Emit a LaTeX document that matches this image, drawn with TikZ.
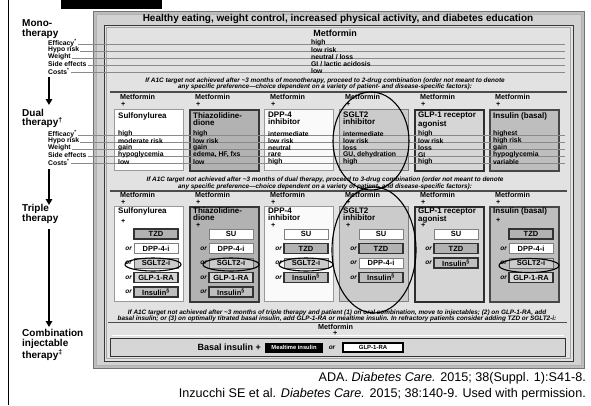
\documentclass[tikz,border=0pt]{standalone}
\usepackage{fontspec}
\setmainfont{Liberation Sans}
\usetikzlibrary{arrows.meta}
\definecolor{framec}{HTML}{BDBDBD}
\definecolor{framehi}{HTML}{D2D2D2}
\definecolor{panelc}{HTML}{E2E2E2}
\definecolor{rowln}{HTML}{8A8A8A}
\definecolor{gA}{HTML}{B2B2B2}
\definecolor{gB}{HTML}{CBCBCB}
\definecolor{gC}{HTML}{D6D6D6}
\definecolor{gD}{HTML}{BEBEBE}
\newcommand\myfs[2]{\fontsize{#1}{#2}\selectfont}
\tikzset{
  big/.style={font=\myfs{10}{9.8}\bfseries, align=left, anchor=west, inner sep=0pt},
  sublbl/.style={font=\myfs{6.8}{7}\bfseries, anchor=west, inner sep=0pt},
  val/.style={font=\myfs{6.8}{7}\bfseries, anchor=west, inner sep=0pt},
  hdr/.style={font=\myfs{8}{7}\bfseries, anchor=north west, align=left, inner sep=0pt},
  met/.style={font=\myfs{7.2}{7.2}\bfseries, anchor=west, inner sep=0pt},
  note/.style={font=\myfs{6.4}{6.6}\bfseries\itshape, align=center, inner sep=0pt},
  rowline/.style={draw=rowln, line width=0.5pt},
  sepline/.style={draw=black!70, line width=1.6pt},
  arr/.style={line width=1.6pt, -{Triangle[length=6pt,width=6.5pt]}},
  colbox/.style={minimum width=69pt, anchor=north west, inner sep=0pt},
  boxW/.style={colbox, fill=white, draw=black!40, line width=1.3pt},
  boxT/.style={colbox, fill=gA, draw=black!78, line width=1.7pt},
  boxD/.style={colbox, fill=black!2, draw=black!40, line width=1.3pt},
  boxS/.style={colbox, fill=gB, draw=black!50, line width=1.3pt},
  boxG/.style={colbox, fill=gC, draw=black!82, line width=1.7pt},
  boxI/.style={colbox, fill=gD, draw=black!72, line width=1.7pt},
  sb/.style={minimum width=44pt, minimum height=10pt, inner sep=0pt, font=\myfs{7.5}{7.5}\bfseries},
  sbW/.style={sb, fill=white, draw=black!50, line width=1pt},
  sbT/.style={sb, fill=gA, draw=black!80, line width=1.3pt},
  sbS/.style={sb, fill=gB, draw=black!60, line width=1pt},
  sbG/.style={sb, fill=gC, draw=black!80, line width=1.3pt},
  sbI/.style={sb, fill=gD, draw=black!80, line width=1.3pt},
  orl/.style={font=\myfs{6.5}{6.5}\bfseries\itshape, anchor=east, inner sep=0pt},
  oval/.style={draw=black, line width=1.1pt},
  cite/.style={font=\myfs{12.6}{13}, anchor=east, inner sep=0pt}
}
\begin{document}
\begin{tikzpicture}[x=1pt,y=-1pt]
\useasboundingbox (0,0) rectangle (591,405);
\fill[white] (0,0) rectangle (591,405);
% page rule and title remnant
\draw[line width=1.6pt] (8.5,0) -- (8.5,405);
\fill[black] (61,0) rectangle (162,9);
% frame
\draw[fill=framec, draw=black!55, line width=0.8pt] (93,11) rectangle (584,368);
\draw[fill=framehi, draw=black!30, line width=0.6pt] (96,14) rectangle (581,365);
\draw[fill=panelc, draw=black!78, line width=1pt] (104,25) rectangle (573,361);
\draw[draw=black!35, line width=0.5pt] (106.5,27.5) rectangle (570.5,358.5);
\node[font=\myfs{10}{10}\bfseries, inner sep=0pt] (head) at (338,18.5) {Healthy eating, weight control, increased physical activity, and diabetes education};
\coordinate (edgeR) at (565,0);

% ---------- left column labels ----------
\node[big] (mono) at (22,29) {Mono-\\therapy};
\node[big] (dual) at (22,118.5) {Dual\\therapy\textsuperscript{\dag}};
\node[big] (triple) at (22,214) {Triple\\therapy};
\node[big] (comb) at (22,345) {Combination\\injectable\\therapy\textsuperscript{\ddag}};
\foreach \t [count=\k from 0] in {Efficacy\textsuperscript{*}, Hypo risk, Weight, Side effects, Costs\textsuperscript{*}}{
  \node[sublbl] (ml\k) at (48,43+7*\k) {\t};
  \node[sublbl] (dl\k) at (48,134+7*\k) {\t};
}
\coordinate (a1s) at (49,77);  \coordinate (a1e) at (49,105);
\coordinate (a2s) at (49,169); \coordinate (a2e) at (49,205);
\coordinate (a3s) at (49,229); \coordinate (a3e) at (49,327);
\draw[arr] (a1s) -- (a1e);
\draw[arr] (a2s) -- (a2e);
\draw[arr] (a3s) -- (a3e);

% ---------- dual boxes ----------
\node[boxW, minimum height=61pt] (d0) at (114,109) {};
\node[boxT, minimum height=61pt] (d1) at (189,109) {};
\node[boxD, minimum height=61pt] (d2) at (264,109) {};
\node[boxS, minimum height=61pt] (d3) at (339,109) {};
\node[boxG, minimum height=61pt] (d4) at (414,109) {};
\node[boxI, minimum height=61pt] (d5) at (489,109) {};
% ---------- triple boxes ----------
\node[boxW, minimum height=95pt] (t0) at (114,206) {};
\node[boxT, minimum height=95pt] (t1) at (189,206) {};
\node[boxD, minimum height=95pt] (t2) at (264,206) {};
\node[boxS, minimum height=95pt] (t3) at (339,206) {};
\node[boxG, minimum height=95pt] (t4) at (414,206) {};
\node[boxI, minimum height=95pt] (t5) at (489,206) {};

% ---------- row lines ----------
\foreach \k in {0,...,4}{
  \draw[rowline] ([xshift=1pt,yshift=-1pt]ml\k.east) -- ([yshift=-1pt]ml\k.east -| edgeR);
  \draw[rowline] ([xshift=1pt,yshift=-1pt]dl\k.east) -- ([yshift=-1pt]dl\k.east -| edgeR);
}

% ---------- mono section ----------
\node[font=\myfs{9}{9}\bfseries, inner sep=0pt] (metm) at (335,33) {Metformin};
\foreach \t [count=\k from 0] in {high, low risk, neutral / loss, GI / lactic acidosis, low}{
  \node[val] (mv\k) at (311,43+7*\k) {\t};
}
\node[note] (n1) at (325,84) {If A1C target not achieved after \textasciitilde3 months of monotherapy, proceed to 2-drug combination (order not meant to denote\\any specific preference---choice dependent on a variety of patient- and disease-specific factors):};
\coordinate (s1a) at (110,92); \coordinate (s1b) at (567,92);
\draw[sepline] (s1a) -- (s1b);

% ---------- dual section text ----------
\foreach \i in {0,...,5}{
  \node[met] (dm\i) at (120+75*\i,96.5) {Metformin};
  \node[met] (dp\i) at (121+75*\i,104) {+};
  \node[met] (tm\i) at (120+75*\i,194.5) {Metformin};
  \node[met] (tp\i) at (121+75*\i,202) {+};
}
\node[hdr] (dh0) at (118,112) {Sulfonylurea};
\node[hdr] (dh1) at (193,112) {Thiazolidine-\\dione};
\node[hdr] (dh2) at (268,112) {DPP-4\\inhibitor};
\node[hdr] (dh3) at (343,112) {SGLT2\\inhibitor};
\node[hdr] (dh4) at (418,112) {GLP-1 receptor\\agonist};
\node[hdr] (dh5) at (493,112) {Insulin (basal)};
\foreach \t [count=\k from 0] in {high, moderate risk, gain, hypoglycemia, low}{\node[val] (dv0\k) at (118,134+7*\k) {\t};}
\foreach \t [count=\k from 0] in {high, low risk, gain, {edema, HF, fxs}, low}{\node[val] (dv1\k) at (193,134+7*\k) {\t};}
\foreach \t [count=\k from 0] in {intermediate, low risk, neutral, rare, high}{\node[val] (dv2\k) at (268,134+7*\k) {\t};}
\foreach \t [count=\k from 0] in {intermediate, low risk, loss, {GU, dehydration}, high}{\node[val] (dv3\k) at (343,134+7*\k) {\t};}
\foreach \t [count=\k from 0] in {high, low risk, loss, GI, high}{\node[val] (dv4\k) at (418,134+7*\k) {\t};}
\foreach \t [count=\k from 0] in {highest, high risk, gain, hypoglycemia, variable}{\node[val] (dv5\k) at (493,134+7*\k) {\t};}
\node[note] (n2) at (325,183.5) {If A1C target not achieved after \textasciitilde3 months of dual therapy, proceed to 3-drug combination (order not meant to denote\\any specific preference---choice dependent on a variety of patient- and disease-specific factors):};
\coordinate (s2a) at (110,191); \coordinate (s2b) at (567,191);
\draw[sepline] (s2a) -- (s2b);

% ---------- triple section ----------
\node[hdr] (th0) at (118,207.5) {Sulfonylurea};
\node[hdr] (th1) at (193,207.5) {Thiazolidine-\\dione};
\node[hdr] (th2) at (268,207.5) {DPP-4\\inhibitor};
\node[hdr] (th3) at (343,207.5) {SGLT2\\inhibitor};
\node[hdr] (th4) at (418,207.5) {GLP-1 receptor\\agonist};
\node[hdr] (th5) at (493,207.5) {Insulin (basal)};
\node[met] (tq0) at (121,221.5) {+};
\node[met] (tq1) at (196,225.5) {+};
\node[met] (tq2) at (271,225.5) {+};
\node[met] (tq3) at (346,225.5) {+};
\node[met] (tq4) at (421,225.5) {+};
\node[met] (tq5) at (496,220) {+};
% sub boxes
\foreach \t/\s [count=\k from 0] in {TZD/T, DPP-4-i/W, SGLT2-i/S, GLP-1-RA/G, Insulin\textsuperscript{\S}/I}{
  \node[sb\s] (x0\k) at (156,234+14.5*\k) {\t};
  \ifnum\k>0 \node[orl] (o0\k) at (132,234+14.5*\k) {or};\fi
}
\foreach \t/\s [count=\k from 0] in {SU/W, DPP-4-i/W, SGLT2-i/S, GLP-1-RA/G, Insulin\textsuperscript{\S}/I}{
  \node[sb\s] (x1\k) at (231,234+14.5*\k) {\t};
  \ifnum\k>0 \node[orl] (o1\k) at (207,234+14.5*\k) {or};\fi
}
\foreach \t/\s [count=\k from 0] in {SU/W, TZD/T, SGLT2-i/S, Insulin\textsuperscript{\S}/I}{
  \node[sb\s] (x2\k) at (306,234+14.5*\k) {\t};
  \ifnum\k>0 \node[orl] (o2\k) at (282,234+14.5*\k) {or};\fi
}
\foreach \t/\s [count=\k from 0] in {SU/W, TZD/T, DPP-4-i/W, Insulin\textsuperscript{\S}/I}{
  \node[sb\s] (x3\k) at (381,234+14.5*\k) {\t};
  \ifnum\k>0 \node[orl] (o3\k) at (357,234+14.5*\k) {or};\fi
}
\foreach \t/\s [count=\k from 0] in {SU/W, TZD/T, Insulin\textsuperscript{\S}/I}{
  \node[sb\s] (x4\k) at (456,234+14.5*\k) {\t};
  \ifnum\k>0 \node[orl] (o4\k) at (432,234+14.5*\k) {or};\fi
}
\foreach \t/\s [count=\k from 0] in {TZD/T, DPP-4-i/W, SGLT2-i/S, GLP-1-RA/G}{
  \node[sb\s] (x5\k) at (531,234+14.5*\k) {\t};
  \ifnum\k>0 \node[orl] (o5\k) at (507,234+14.5*\k) {or};\fi
}
\node[note] (n3) at (337,316) {If A1C target not achieved after \textasciitilde3 months of triple therapy and patient (1) on oral combination, move to injectables; (2) on GLP-1-RA, add\\basal insulin; or (3) on optimally titrated basal insulin, add GLP-1-RA or mealtime insulin. In refractory patients consider adding TZD or SGLT2-i:};
\coordinate (s3a) at (108,322.5); \coordinate (s3b) at (567,322.5);
\draw[draw=black!70, line width=1pt] (s3a) -- (s3b);

% ---------- combination injectable ----------
\node[met] (cm) at (318,326.5) {Metformin};
\node[met] (cp) at (333,333.5) {+};
\node[fill=gC, draw=black!80, line width=1.5pt, minimum width=455pt, minimum height=18pt, inner sep=0pt] (bar) at (338,347.5) {};
\draw[draw=white, line width=0.6pt] ([shift={(2,-2)}]bar.north west) -- ([shift={(-2,-2)}]bar.north east);
\node[font=\myfs{9}{9}\bfseries, anchor=east, inner sep=0pt] (basal) at (261,347.5) {Basal insulin +};
\node[fill=black, text=white, font=\myfs{5.8}{6}\bfseries, minimum width=58pt, minimum height=10pt, inner sep=0pt] (meal) at (294,347.5) {Mealtime insulin};
\node[font=\myfs{6.5}{6.5}\bfseries\itshape, inner sep=0pt] (orb) at (332,347.5) {or};
\node[fill=white, draw=black, line width=1.2pt, font=\myfs{6}{6}\bfseries, minimum width=60pt, minimum height=9pt, inner sep=0pt] (glpb) at (373,347.5) {GLP-1-RA};

% ---------- annotation ovals ----------
\draw[oval] (371,141) ellipse [x radius=38pt, y radius=49pt];
\draw[oval] (374,250) ellipse [x radius=42pt, y radius=63pt];
\draw[oval] (153,264.5) ellipse [x radius=28pt, y radius=6.5pt];
\draw[oval] (231,264.5) ellipse [x radius=28pt, y radius=6.5pt];
\draw[oval] (306,264.5) ellipse [x radius=27pt, y radius=6.5pt];
\draw[oval] (529,265.5) ellipse [x radius=30pt, y radius=7pt];

% ---------- citations ----------
\node[cite] (c1) at (586,378) {ADA. \textit{Diabetes Care.} 2015; 38(Suppl. 1):S41-8.};
\node[cite] (c2) at (586,394) {Inzucchi SE et al. \textit{Diabetes Care.} 2015; 38:140-9. Used with permission.};
\end{tikzpicture}
\end{document}
